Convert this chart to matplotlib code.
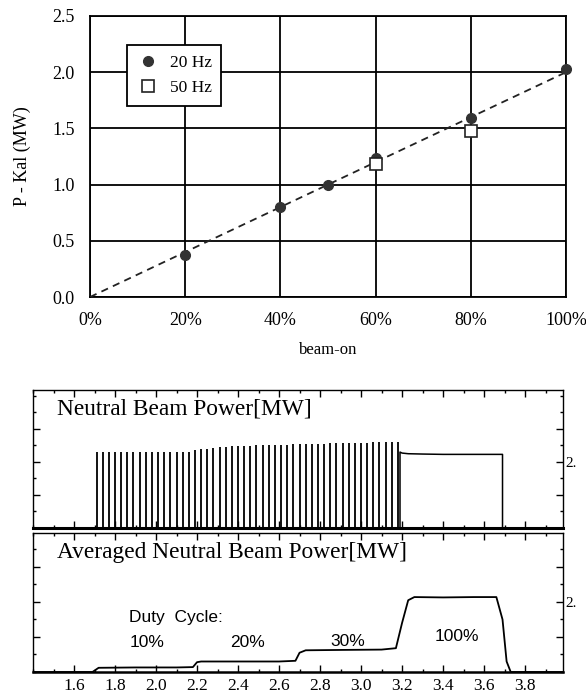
import numpy as np
import matplotlib
matplotlib.use("Agg")
import matplotlib.pyplot as plt
from matplotlib.ticker import MultipleLocator, FixedLocator

SERIF = ["Liberation Serif", "DejaVu Serif"]
SANS = ["Liberation Sans", "DejaVu Sans"]

# --- calibration data: calorimetric power vs. beam-on fraction ---
beam_on_20hz = [20, 40, 50, 60, 80, 100]
p_kal_20hz = [0.37, 0.80, 1.00, 1.24, 1.59, 2.03]
beam_on_50hz = [60, 80]
p_kal_50hz = [1.18, 1.48]
fit_x = [0, 100]
fit_y = [0.0, 2.0]
pct_ticks = [0, 20, 40, 60, 80, 100]
pct_labels = ["0%", "20%", "40%", "60%", "80%", "100%"]
p_ticks = [0.0, 0.5, 1.0, 1.5, 2.0, 2.5]

# --- neutral beam pulse train (time in s, power in MW) ---
pulse_start = [1.71, 1.74, 1.77, 1.80, 1.83, 1.86, 1.89, 1.92, 1.95, 1.98,
               2.01, 2.04, 2.07, 2.10, 2.13, 2.16, 2.19, 2.22, 2.25, 2.28,
               2.31, 2.34, 2.37, 2.40, 2.43, 2.46, 2.49, 2.52, 2.55, 2.58,
               2.61, 2.64, 2.67, 2.70, 2.73, 2.76, 2.79, 2.82, 2.85, 2.88,
               2.91, 2.94, 2.97, 3.00, 3.03, 3.06, 3.09, 3.12, 3.15, 3.18]
pulse_peak = [2.30, 2.31, 2.30, 2.31, 2.30, 2.31, 2.30, 2.31, 2.31, 2.30,
              2.31, 2.31, 2.30, 2.31, 2.31, 2.31, 2.36, 2.38, 2.40, 2.42,
              2.44, 2.46, 2.47, 2.48, 2.48, 2.49, 2.50, 2.50, 2.51, 2.51,
              2.52, 2.52, 2.53, 2.53, 2.54, 2.54, 2.55, 2.55, 2.56, 2.56,
              2.57, 2.57, 2.58, 2.58, 2.58, 2.59, 2.59, 2.59, 2.59, 2.59]
duty_labels = ["10%", "20%", "30%", "100%"]
duty_label_time = [1.87, 2.36, 2.85, 3.36]
duty_label_level = [0.83, 0.83, 0.87, 1.00]

cw_time = [3.19, 3.20, 3.23, 3.30, 3.40, 3.50, 3.60, 3.69]
cw_power = [2.30, 2.27, 2.25, 2.24, 2.23, 2.23, 2.23, 2.23]

# --- running average of the beam power ---
avg_time = [1.40, 1.69, 1.72, 1.90, 2.10, 2.18, 2.20, 2.22, 2.40, 2.60,
            2.68, 2.70, 2.73, 2.90, 3.10, 3.17, 3.20, 3.23, 3.26, 3.40,
            3.55, 3.66, 3.69, 3.71, 3.73, 3.985]
avg_power = [0.0, 0.0, 0.12, 0.13, 0.13, 0.14, 0.28, 0.30, 0.30, 0.30,
             0.32, 0.55, 0.62, 0.63, 0.64, 0.68, 1.40, 2.05, 2.14, 2.13,
             2.14, 2.14, 1.50, 0.30, 0.0, 0.0]
time_ticks = [1.6, 1.8, 2.0, 2.2, 2.4, 2.6, 2.8, 3.0, 3.2, 3.4, 3.6, 3.8]

fig = plt.figure(figsize=(5.86, 6.96), dpi=100)

# ================= calibration plot =================
ax = fig.add_axes([90 / 586, 1 - 297 / 696, 476 / 586, 281 / 696])
ax.set_xlim(0, 100)
ax.set_ylim(0, 2.5)
ax.set_xticks(pct_ticks)
ax.set_xticklabels(pct_labels, family=SERIF, fontsize=13)
ax.set_yticks(p_ticks)
ax.set_yticklabels([f"{v:.1f}" for v in p_ticks], family=SERIF, fontsize=13)
ax.tick_params(length=0, pad=11)
ax.grid(True, color="black", linewidth=1.3)
for s in ax.spines.values():
    s.set_linewidth(1.3)

ax.plot(fit_x, fit_y, linestyle=(0, (4, 3)), color="#222222", linewidth=1.3, zorder=3)
ax.plot(beam_on_20hz, p_kal_20hz, "o", color="#333333", markersize=7,
        label="20 Hz", zorder=4, clip_on=False)
ax.plot(beam_on_50hz, p_kal_50hz, "s", markerfacecolor="white",
        markeredgecolor="#222222", markeredgewidth=1.2, markersize=8,
        label="50 Hz", zorder=4)
leg = ax.legend(loc="upper left", bbox_to_anchor=(37 / 476, 1 - 29 / 281),
                borderaxespad=0,
                prop={"family": SERIF, "size": 12.5}, frameon=True,
                fancybox=False, edgecolor="black", framealpha=1,
                borderpad=0.55, handletextpad=0.6, labelspacing=0.55,
                handlelength=1.3)
leg.get_frame().set_linewidth(1.3)

ax.set_ylabel("P - Kal (MW)", family=SERIF, fontsize=13, labelpad=15)
fig.text(0.56, 1 - 350 / 696, "beam-on", family=SERIF, fontsize=12,
         ha="center", va="center")


def style_panel(a, ymax, title):
    a.set_xlim(1.40, 3.985)
    a.set_ylim(0, ymax)
    a.xaxis.set_major_locator(FixedLocator(time_ticks))
    a.xaxis.set_minor_locator(MultipleLocator(0.1))
    a.yaxis.set_major_locator(FixedLocator([1, 2, 3]))
    a.yaxis.set_minor_locator(MultipleLocator(0.5))
    a.tick_params(axis="both", which="major", direction="in", length=5,
                  width=1.0, top=True, right=True)
    a.tick_params(axis="both", which="minor", direction="in", length=2.5,
                  width=1.0, top=True, right=True)
    a.tick_params(axis="y", labelleft=False, labelright=True, pad=2)
    a.set_yticklabels(["", "2.", ""], family=SERIF, fontsize=11)
    for s in a.spines.values():
        s.set_linewidth(1.0)
    a.text((57 - 33) / 530, 0.86, title, transform=a.transAxes,
           family=SERIF, fontsize=16.8, ha="left", va="center")


# ================= pulse train panel =================
ax1 = fig.add_axes([33 / 586, 1 - 528 / 696, 530 / 586, 138 / 696])
ax1.vlines(pulse_start, 0, pulse_peak, color="black", linewidth=1.3)
cx = [cw_time[0]] + cw_time + [cw_time[-1]]
cy = [0.0] + cw_power + [0.0]
ax1.plot(cx, cy, color="black", linewidth=1.1)
style_panel(ax1, 4.18, "Neutral Beam Power[MW]")
ax1.tick_params(axis="x", labelbottom=False)
ax1.spines["bottom"].set_linewidth(2.2)

# ================= averaged power panel =================
ax2 = fig.add_axes([33 / 586, 1 - 672 / 696, 530 / 586, 139 / 696])
ax2.plot(avg_time, avg_power, color="black", linewidth=1.3)
style_panel(ax2, 3.97, "Averaged Neutral Beam Power[MW]")
ax2.set_xticklabels([f"{v:.1f}" for v in time_ticks], family=SERIF, fontsize=12.5)
ax2.tick_params(axis="x", which="major", pad=4)
ax2.spines["bottom"].set_linewidth(1.8)

ax2.text(1.87, 1.57, "Duty  Cycle:", family=SANS, fontsize=12.5, ha="left", va="center")
for tx, ty, lab in zip(duty_label_time, duty_label_level, duty_labels):
    ax2.text(tx, ty, lab, family=SANS, fontsize=12.5, ha="left", va="center")

fig.savefig("out.png", dpi=100)
